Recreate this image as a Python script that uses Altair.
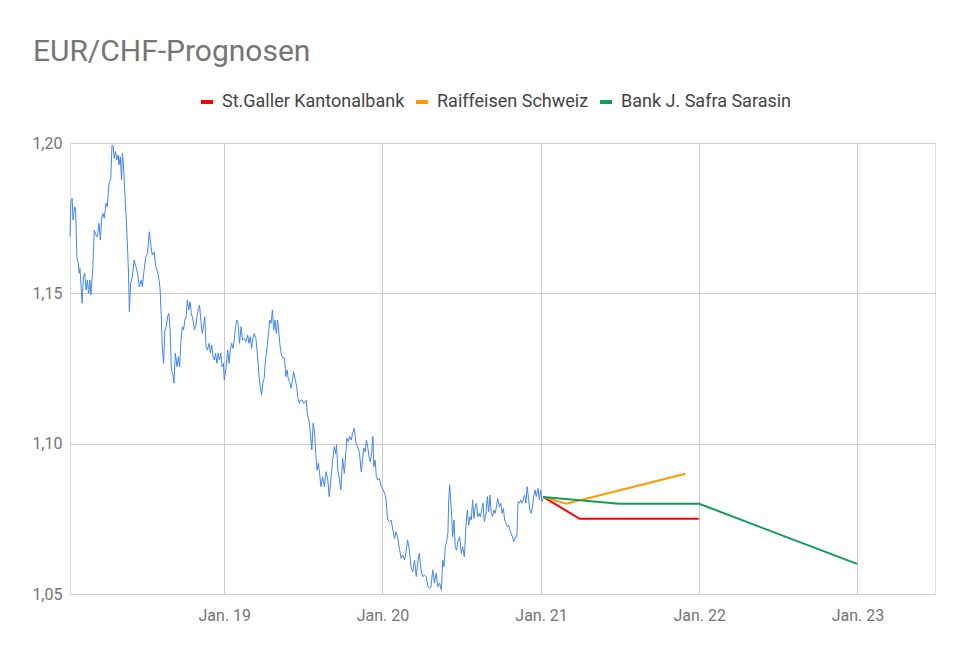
import altair as alt
import pandas as pd

# ---- historical EUR/CHF (days since 2018-01-01, rate) ----
hist_days = [
    9, 11, 14, 16, 20, 22, 25, 28, 30, 32, 37, 40, 43, 46, 49, 52, 55, 57, 61, 65,
    69, 72, 76, 79, 82, 85, 88, 92, 95, 99, 103, 106, 109, 111, 114, 117, 120, 122, 125, 128,
    130, 132, 136, 139, 142, 144, 146, 149, 153, 157, 161, 165, 169, 173, 176, 180,
    184, 188, 192, 196, 199, 203, 207, 211, 215, 217, 220, 222, 225, 228, 231, 234, 237, 240, 243, 246,
    249, 252, 256, 259, 262, 265, 268, 271, 274, 277, 280, 283, 286, 289, 293, 296, 299, 302, 305, 308,
    311, 314, 317, 320, 323, 326, 330, 333, 336, 339, 342, 345, 348, 351, 354, 357, 360, 363,
    365, 369, 373, 376, 379, 382, 385, 388, 391, 394, 397, 400, 404, 407, 411, 415, 419, 422, 425, 428,
    431, 434, 438, 442, 445, 448, 451, 454, 457, 460, 464, 467, 470, 473, 476, 479, 482, 485, 488, 491,
    494, 497, 501, 504, 507, 510, 513, 516, 519, 522, 525, 529, 532, 535, 538, 541, 545, 548,
    554, 557, 561, 564, 567, 570, 573, 576, 579, 582, 585, 588, 592, 596, 600, 604, 607, 611, 615, 619,
    622, 624, 627, 631, 634, 638, 642, 646, 648, 651, 654, 658, 661, 665, 669, 673, 677, 681, 684, 687,
    690, 693, 696, 699, 702, 705, 708, 710, 713, 716, 719, 723, 727, 732,
    735, 738, 742, 746, 750, 754, 758, 761, 765, 769, 773, 777, 781, 785, 788, 792, 796, 800, 804, 808,
    812, 815, 819, 823, 827, 831, 835, 839, 842, 846, 850, 854, 858, 862, 866, 869, 872, 875, 878, 881,
    883, 885, 889, 892, 895, 898, 901, 904, 908, 912, 915, 919,
    923, 926, 929, 932, 935, 938, 941, 944, 947, 950, 953, 956, 959, 962, 965, 969, 972, 975, 978, 981,
    984, 987, 990, 993, 996, 1000, 1003, 1006, 1009, 1012, 1015, 1018, 1021, 1024, 1027, 1030, 1033, 1037, 1040, 1043,
    1046, 1049, 1052, 1055, 1058, 1061, 1064, 1067, 1070, 1073, 1076, 1079, 1082, 1085, 1089, 1092, 1095, 1098, 1101,
]
hist_values = [
    1.1688, 1.1805, 1.1816, 1.1744, 1.1788, 1.1777, 1.1617, 1.1601, 1.1567, 1.1583, 1.1467, 1.1555, 1.1567, 1.1511, 1.1544, 1.1500, 1.1544, 1.1494, 1.1567, 1.1710,
    1.1694, 1.1688, 1.1733, 1.1677, 1.1750, 1.1766, 1.1750, 1.1800, 1.1788, 1.1866, 1.1879, 1.1993, 1.1988, 1.1949, 1.1971, 1.1943, 1.1960, 1.1927, 1.1954, 1.1877,
    1.1966, 1.1932, 1.1821, 1.1744, 1.1644, 1.1567, 1.1439, 1.1533, 1.1555, 1.1611, 1.1589, 1.1567, 1.1522, 1.1544, 1.1522, 1.1578,
    1.1622, 1.1633, 1.1705, 1.1655, 1.1627, 1.1638, 1.1589, 1.1572, 1.1539, 1.1511, 1.1411, 1.1322, 1.1267, 1.1378, 1.1389, 1.1422, 1.1433, 1.1378, 1.1245, 1.1234,
    1.1201, 1.1301, 1.1256, 1.1289, 1.1256, 1.1345, 1.1389, 1.1378, 1.1411, 1.1422, 1.1478, 1.1445, 1.1472, 1.1433, 1.1411, 1.1378, 1.1389, 1.1422, 1.1445, 1.1461,
    1.1411, 1.1367, 1.1389, 1.1422, 1.1322, 1.1312, 1.1334, 1.1301, 1.1328, 1.1289, 1.1278, 1.1301, 1.1267, 1.1301, 1.1278, 1.1301, 1.1256, 1.1267,
    1.1212, 1.1251, 1.1312, 1.1267, 1.1312, 1.1334, 1.1317, 1.1345, 1.1389, 1.1411, 1.1400, 1.1334, 1.1389, 1.1345, 1.1350, 1.1339, 1.1361, 1.1334, 1.1356, 1.1317,
    1.1350, 1.1367, 1.1350, 1.1289, 1.1228, 1.1189, 1.1162, 1.1201, 1.1217, 1.1278, 1.1322, 1.1367, 1.1411, 1.1400, 1.1445, 1.1378, 1.1411, 1.1367, 1.1411, 1.1367,
    1.1322, 1.1295, 1.1284, 1.1284, 1.1223, 1.1245, 1.1212, 1.1206, 1.1184, 1.1206, 1.1239, 1.1212, 1.1189, 1.1151, 1.1134, 1.1145, 1.1145, 1.1134,
    1.1145, 1.1095, 1.1073, 1.1029, 1.0979, 1.1068, 1.1045, 1.0968, 1.0912, 1.0935, 1.0901, 1.0857, 1.0890, 1.0857, 1.0907, 1.0879, 1.0824, 1.0879, 1.0946, 1.0990,
    1.0968, 1.0996, 1.0912, 1.0879, 1.0846, 1.0951, 1.0901, 1.0979, 1.1018, 1.1007, 1.1024, 1.1012, 1.1034, 1.1051, 1.1001, 1.0990, 1.0968, 1.0907, 1.0946, 1.0985,
    1.0973, 1.1012, 1.0990, 1.0957, 1.0940, 1.0968, 1.1024, 1.0923, 1.0946, 1.0890, 1.0879, 1.0885, 1.0857, 1.0846,
    1.0835, 1.0818, 1.0746, 1.0741, 1.0746, 1.0713, 1.0685, 1.0707, 1.0690, 1.0652, 1.0619, 1.0630, 1.0613, 1.0646, 1.0680, 1.0646, 1.0591, 1.0574, 1.0613, 1.0558,
    1.0613, 1.0635, 1.0580, 1.0558, 1.0563, 1.0558, 1.0524, 1.0519, 1.0524, 1.0580, 1.0536, 1.0569, 1.0524, 1.0536, 1.0513, 1.0613, 1.0591, 1.0657, 1.0674, 1.0702,
    1.0813, 1.0863, 1.0779, 1.0690, 1.0746, 1.0657, 1.0646, 1.0674, 1.0690, 1.0635, 1.0657, 1.0624,
    1.0735, 1.0779, 1.0729, 1.0757, 1.0746, 1.0813, 1.0752, 1.0790, 1.0802, 1.0757, 1.0768, 1.0757, 1.0779, 1.0802, 1.0741, 1.0768, 1.0824, 1.0774, 1.0829, 1.0768,
    1.0757, 1.0779, 1.0768, 1.0790, 1.0818, 1.0790, 1.0802, 1.0768, 1.0785, 1.0746, 1.0735, 1.0724, 1.0729, 1.0713, 1.0702, 1.0690, 1.0674, 1.0690, 1.0690, 1.0807,
    1.0802, 1.0813, 1.0802, 1.0813, 1.0829, 1.0802, 1.0857, 1.0818, 1.0779, 1.0768, 1.0790, 1.0824, 1.0846, 1.0824, 1.0851, 1.0813, 1.0846, 1.0807, 1.0818,
]

# ---- forecasts ----
banks = ["St.Galler Kantonalbank", "Raiffeisen Schweiz", "Bank J. Safra Sarasin"]
bank_colors = ["#FF0000", "#FF9900", "#0F9D58"]
sgkb_dates = ["2021-01-06", "2021-03-31", "2021-12-31"]
sgkb_values = [1.0823, 1.075, 1.075]
raif_dates = ["2021-01-06", "2021-02-28", "2021-11-30"]
raif_values = [1.0823, 1.080, 1.090]
jss_dates = ["2021-01-06", "2021-06-30", "2022-01-01", "2022-12-31"]
jss_values = [1.0823, 1.080, 1.080, 1.060]

y_ticks = [1.05, 1.10, 1.15, 1.20]
x_tick_years = [2019, 2020, 2021, 2022, 2023]

n = min(len(hist_days), len(hist_values))
hist = pd.DataFrame({
    "date": pd.Timestamp("2018-01-01") + pd.to_timedelta(hist_days[:n], unit="D"),
    "value": hist_values[:n],
})

rows = []
for bank, ds, vs in zip(banks, [sgkb_dates, raif_dates, jss_dates],
                        [sgkb_values, raif_values, jss_values]):
    for d, v in zip(ds, vs):
        rows.append({"date": pd.Timestamp(d), "value": v, "bank": bank})
fc = pd.DataFrame(rows)

FONT = "Roboto"
GREY = "#757575"

x_enc = alt.X(
    "date:T",
    scale=alt.Scale(domain=[alt.DateTime(year=2018, month=1, date=10),
                            alt.DateTime(year=2023, month=6, date=29)]),
    axis=alt.Axis(
        values=[alt.DateTime(year=y, month=1, date=1) for y in x_tick_years],
        format="%b. %y", title=None, domain=False, ticks=False,
        labelPadding=13, labelFontSize=16, labelColor=GREY, labelFont=FONT,
        gridColor="#cccccc", labelFlush=False,
    ),
)
y_enc = alt.Y(
    "value:Q",
    scale=alt.Scale(domain=[1.05, 1.20], nice=False, zero=False),
    axis=alt.Axis(
        values=y_ticks, labelExpr="replace(format(datum.value, '.2f'), '.', ',')",
        title=None, domain=False, ticks=False, labelPadding=8,
        labelFontSize=16, labelColor=GREY, labelFont=FONT, gridColor="#cccccc",
    ),
)

hist_line = alt.Chart(hist).mark_line(color="#4285F4", strokeWidth=1).encode(
    x=x_enc, y=y_enc
)

fc_line = alt.Chart(fc).mark_line(strokeWidth=2).encode(
    x=alt.X("date:T"),
    y=alt.Y("value:Q"),
    color=alt.Color(
        "bank:N",
        scale=alt.Scale(domain=banks, range=bank_colors),
        sort=banks,
        legend=alt.Legend(
            orient="none", legendX=128, legendY=-50, direction="horizontal",
            title=None, symbolType="stroke", symbolStrokeWidth=4, symbolSize=144,
            labelFontSize=18, labelColor="#444444", labelFont=FONT,
            labelOffset=6, columnPadding=3, labelLimit=0,
        ),
    ),
    detail="bank:N",
)

chart = alt.layer(hist_line, fc_line).properties(
    width=865,
    height=451,
    autosize=alt.AutoSizeParams(type="none"),
    padding={"left": 62, "top": 135, "right": 25, "bottom": 45},
    title=alt.TitleParams(
        "EUR/CHF-Prognosen", anchor="start", fontSize=30, font=FONT,
        fontWeight="normal", color=GREY, dx=1, offset=26,
    ),
).configure_view(stroke=None).configure(font=FONT)

chart.save("out.html", embed_options={"renderer": "svg", "actions": False})
